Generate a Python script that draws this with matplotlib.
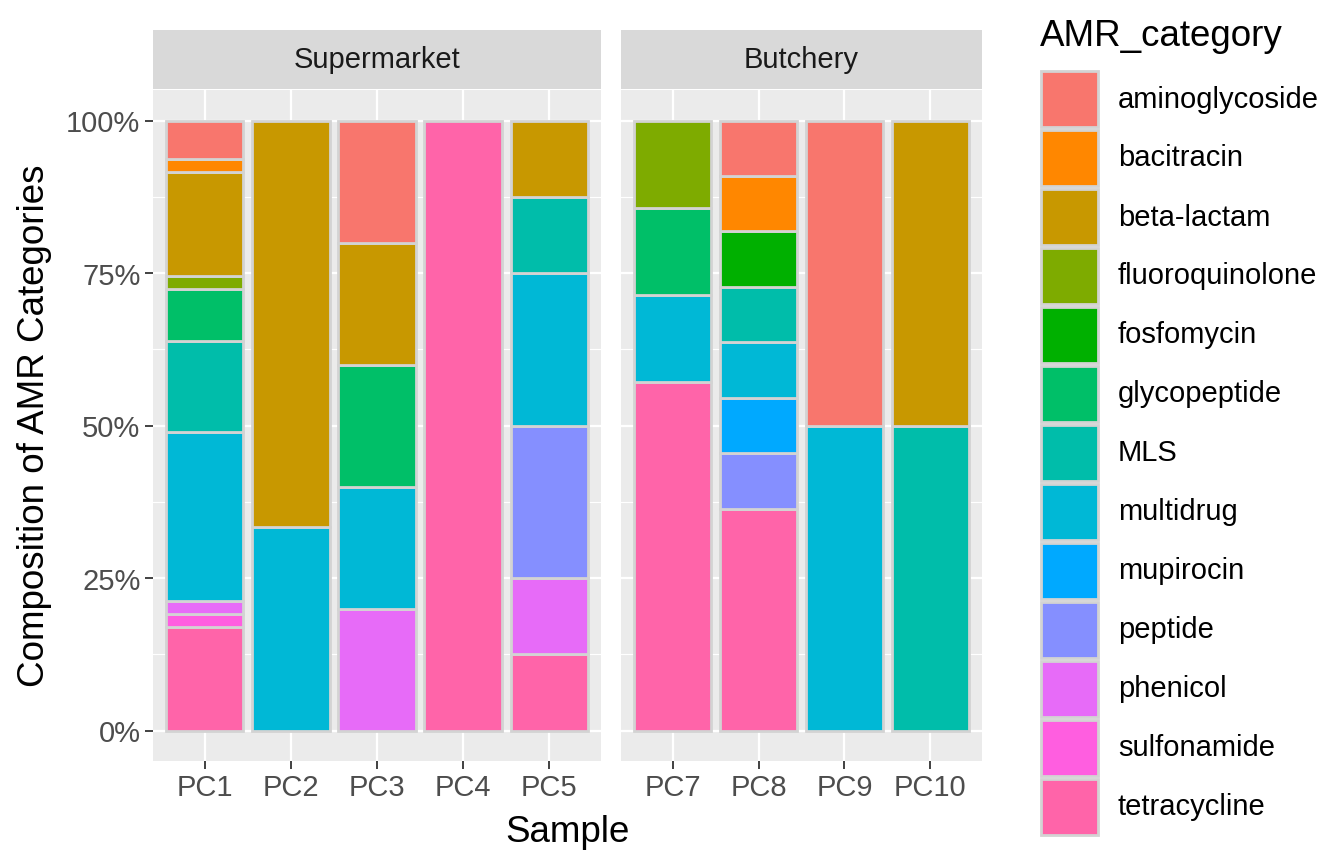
import matplotlib
matplotlib.use("Agg")
import matplotlib.pyplot as plt
from matplotlib.patches import Rectangle
import numpy as np

plt.rcParams['font.family'] = ['Liberation Sans', 'DejaVu Sans']

categories = ['aminoglycoside', 'bacitracin', 'beta-lactam', 'fluoroquinolone',
              'fosfomycin', 'glycopeptide', 'MLS', 'multidrug', 'mupirocin',
              'peptide', 'phenicol', 'sulfonamide', 'tetracycline']
colors = ['#F8766D', '#FF8700', '#C89800', '#7EAB00', '#00B000', '#00BF68',
          '#00BDAA', '#00B8D6', '#00A9FF', '#858FFF', '#E76BF8', '#FF5EE0', '#FF64A9']

facets = ['Supermarket', 'Butchery']
supermarket_samples = ['PC1', 'PC2', 'PC3', 'PC4', 'PC5']
butchery_samples = ['PC7', 'PC8', 'PC9', 'PC10']

# gene counts per sample, in the order of `categories`
PC1 = [3, 1, 8, 1, 0, 4, 7, 13, 0, 0, 1, 1, 8]
PC2 = [0, 0, 2, 0, 0, 0, 0, 1, 0, 0, 0, 0, 0]
PC3 = [1, 0, 1, 0, 0, 1, 0, 1, 0, 0, 1, 0, 0]
PC4 = [0, 0, 0, 0, 0, 0, 0, 0, 0, 0, 0, 0, 1]
PC5 = [0, 0, 1, 0, 0, 0, 1, 2, 0, 2, 1, 0, 1]
PC7 = [0, 0, 0, 1, 0, 1, 0, 1, 0, 0, 0, 0, 4]
PC8 = [1, 1, 0, 0, 1, 0, 1, 1, 1, 1, 0, 0, 4]
PC9 = [1, 0, 0, 0, 0, 0, 0, 1, 0, 0, 0, 0, 0]
PC10 = [0, 0, 1, 0, 0, 0, 1, 0, 0, 0, 0, 0, 0]

counts = {'PC1': PC1, 'PC2': PC2, 'PC3': PC3, 'PC4': PC4, 'PC5': PC5,
          'PC7': PC7, 'PC8': PC8, 'PC9': PC9, 'PC10': PC10}
facet_samples = [supermarket_samples, butchery_samples]

y_ticks = [0, 0.25, 0.5, 0.75, 1.0]
y_ticklabels = ['0%', '25%', '50%', '75%', '100%']

W, H = 1322, 854
fig = plt.figure(figsize=(W / 100, H / 100), dpi=100)

def px(x0, y0, w, h):
    return [x0 / W, 1 - (y0 + h) / H, w / W, h / H]

panel_top, panel_bot = 91, 762
strip_top = 31
panels = [(153, 601), (621, 982)]

tick_col = '#4D4D4D'
fs_tick = 21
fs_title = 26.5
for pi, ((x0, x1), samples, fname) in enumerate(zip(panels, facet_samples, facets)):
    ax = fig.add_axes(px(x0, panel_top, x1 - x0, panel_bot - panel_top))
    ax.set_facecolor('#EBEBEB')
    n = len(samples)
    xs = np.arange(1, n + 1)
    ax.set_xlim(0.4, n + 0.6)
    ax.set_ylim(-0.05, 1.05)
    for s in ax.spines.values():
        s.set_visible(False)
    ax.set_yticks(y_ticks)
    ax.set_yticks([0.125, 0.375, 0.625, 0.875], minor=True)
    ax.set_xticks(xs)
    ax.set_xticklabels(samples)
    ax.grid(True, which='major', color='white', linewidth=1.6)
    ax.grid(True, which='minor', axis='y', color='white', linewidth=0.8)
    ax.set_axisbelow(True)
    ax.tick_params(axis='both', which='major', length=6, width=1.3, color='#333333',
                   labelsize=fs_tick, labelcolor=tick_col, pad=3)
    ax.tick_params(axis='both', which='minor', length=0)
    if pi == 0:
        ax.set_yticklabels(y_ticklabels)
    else:
        ax.tick_params(axis='y', which='both', left=False, labelleft=False)

    for xi, s in zip(xs, samples):
        c = np.array(counts[s], dtype=float)
        frac = c / c.sum()
        bottom = 0.0
        for k in range(len(categories) - 1, -1, -1):
            if frac[k] > 0:
                ax.bar(xi, frac[k], bottom=bottom, width=0.9, color=colors[k],
                       edgecolor='#D3D3D3', linewidth=2.0, zorder=3)
                bottom += frac[k]

    sax = fig.add_axes(px(x0, strip_top, x1 - x0, panel_top - strip_top - 1))
    sax.set_facecolor('#D9D9D9')
    sax.set_xticks([]); sax.set_yticks([])
    for s in sax.spines.values():
        s.set_visible(False)
    sax.text(0.5, 0.5, fname, ha='center', va='center', fontsize=fs_tick,
             color='#1A1A1A', transform=sax.transAxes)

fig.text(567.5 / W, 1 - 833 / H, 'Sample', ha='center', va='center', fontsize=fs_title, color='black')
fig.text(35 / W, 1 - 426 / H, 'Composition of AMR Categories', ha='center', va='center',
         rotation=90, fontsize=fs_title, color='black')

# legend
lax = fig.add_axes([0, 0, 1, 1])
lax.set_xlim(0, W)
lax.set_ylim(H, 0)
lax.axis('off')
lax.text(1040, 37, 'AMR_category', ha='left', va='center', fontsize=fs_title, color='black')
key_top, key_h, key_w, key_x = 70, 59, 57, 1041
for i, (cat, col) in enumerate(zip(categories, colors)):
    y = key_top + i * key_h
    lax.add_patch(Rectangle((key_x, y + 1.5), key_w, key_h - 3, facecolor=col,
                            edgecolor='#D3D3D3', linewidth=2.0))
    lax.text(1118, y + key_h / 2, cat, ha='left', va='center', fontsize=fs_tick, color='black')

fig.savefig('out.png', dpi=100, facecolor='white')
